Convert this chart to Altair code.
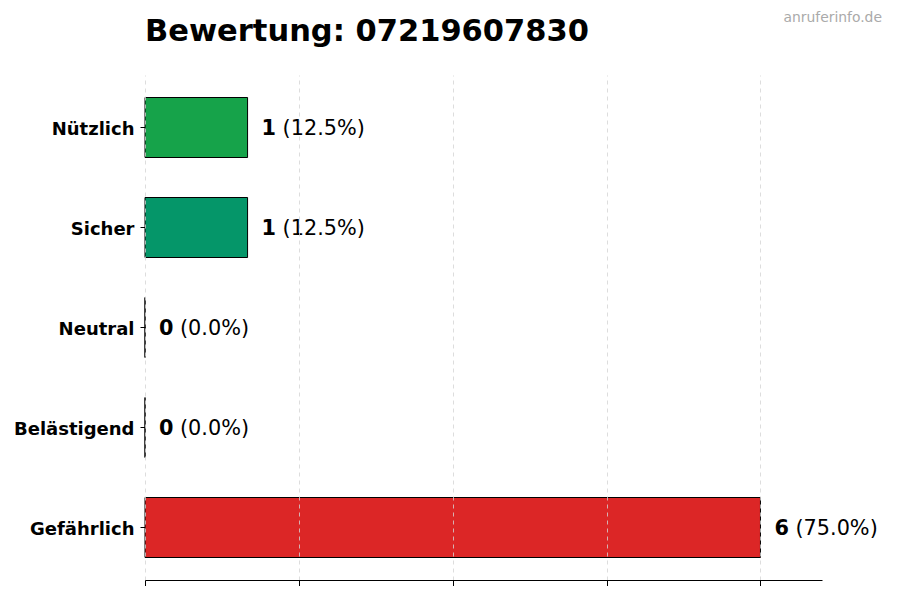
import altair as alt
import pandas as pd

categories = ["Nützlich", "Sicher", "Neutral", "Belästigend", "Gefährlich"]
counts = [1, 1, 0, 0, 6]
colors = ["#16a34a", "#059669", "#6b7280", "#f97316", "#dc2626"]
x_ticks = [0, 1.5, 3, 4.5, 6]
title_text = "Bewertung: 07219607830"
watermark = "anruferinfo.de"

total = sum(counts)
pct_labels = [f"({c / total * 100:.1f}%)" for c in counts]

df = pd.DataFrame({"cat": categories, "count": counts, "pct": pct_labels})

FONT = "DejaVu Sans"

base = alt.Chart(df).encode(
    y=alt.Y(
        "cat:N",
        sort=categories,
        scale=alt.Scale(paddingInner=0.4, paddingOuter=0.225),
        axis=alt.Axis(
            title=None,
            labelFontSize=18,
            labelFontWeight="bold",
            labelColor="black",
            labelFont=FONT,
            tickSize=5,
            tickColor="black",
            domain=False,
            labelPadding=6,
            labelOffset=2,
        ),
    )
)

bars = base.mark_bar(stroke="black", strokeWidth=1).encode(
    x=alt.X(
        "count:Q",
        scale=alt.Scale(domain=[0, 6.6], nice=False, zero=True),
        axis=alt.Axis(
            values=x_ticks,
            labels=False,
            title=None,
            tickSize=6,
            tickColor="black",
            domainColor="black",
            grid=True,
            gridDash=[4, 4],
            gridColor="#d4d4d4",
            gridWidth=0.8,
            zindex=1,
        ),
    ),
    color=alt.Color("cat:N", scale=alt.Scale(domain=categories, range=colors), legend=None),
)

num = base.mark_text(
    align="left", baseline="middle", dx=14, dy=1, fontSize=20.8, fontWeight="bold", font=FONT, color="black"
).encode(x="count:Q", text="count:Q")

pct = base.mark_text(
    align="left", baseline="middle", dx=35, dy=1, fontSize=20.8, font=FONT, color="black"
).encode(x="count:Q", text="pct:N")

wm = alt.Chart(pd.DataFrame({"t": [watermark]})).mark_text(
    align="right", baseline="middle", fontSize=13.9, color="#aaaaaa", font=FONT
).encode(x=alt.value(737), y=alt.value(-57), text="t:N")

chart = (
    alt.layer(bars, num, pct, wm)
    .properties(
        width=677,
        height=505,
        title=alt.TitleParams(
            title_text, anchor="start", frame="group", fontSize=30.5, fontWeight="bold", font=FONT,
            color="black", baseline="alphabetic", offset=-60
        ),
        autosize=alt.AutoSizeParams(type="none"),
        padding={"left": 137, "top": 67, "right": 62, "bottom": 6},
    )
    .configure_view(stroke=None)
)

chart.save("out.html", embed_options={"renderer": "svg", "actions": False})
